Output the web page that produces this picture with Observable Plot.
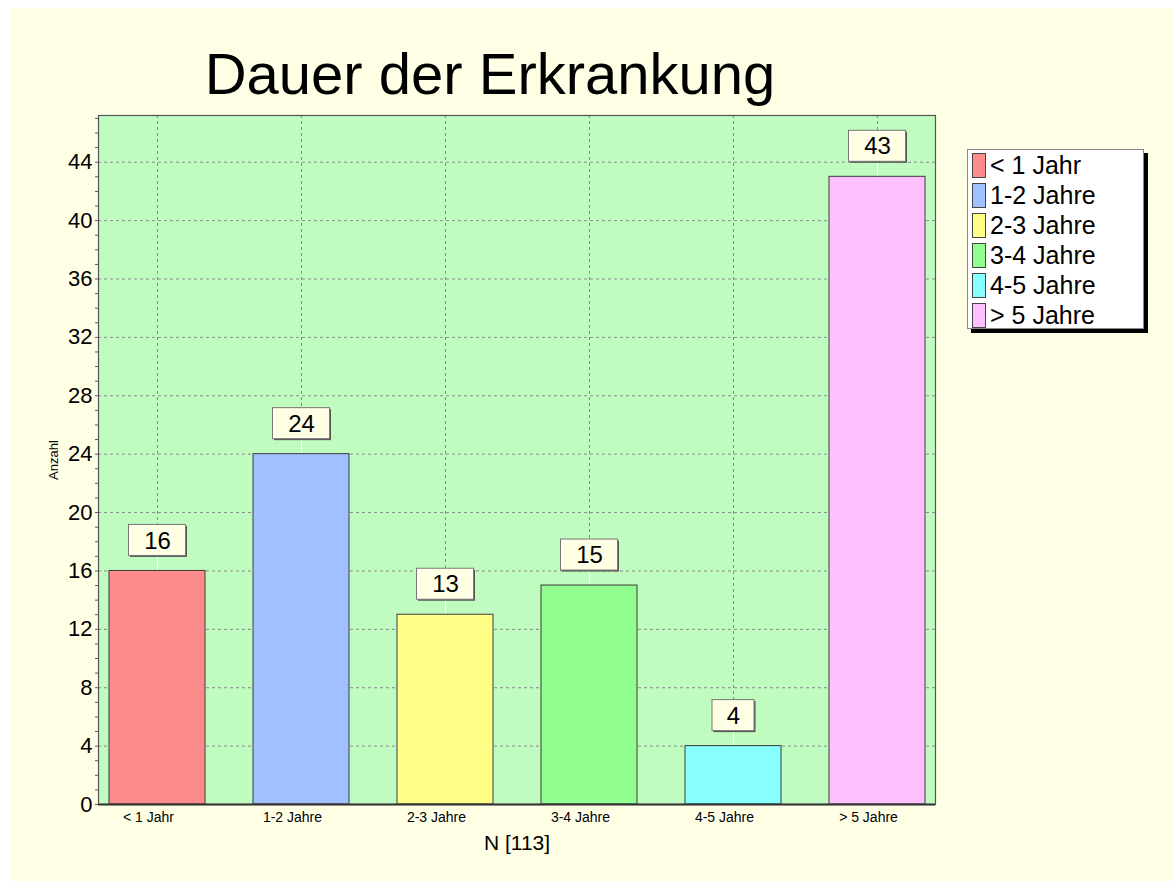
<!DOCTYPE html>
<html>
<head>
<meta charset="utf-8">
<script src="https://cdn.jsdelivr.net/npm/d3@7"></script>
<script src="https://cdn.jsdelivr.net/npm/@observablehq/plot@0.6"></script>
<style>
  html, body { margin: 0; padding: 0; background: #ffffff; }
  #page { position: absolute; left: 10px; top: 8px; width: 1164px; height: 873px; background: #ffffe6; }
  #chart { position: absolute; left: 0; top: 0; }
  #title { position: absolute; left: 0; width: 980px; top: 40px; text-align: center;
           font-family: "Liberation Sans", Arial, sans-serif; font-size: 58px; color: #000; white-space: nowrap; }
  #legend { position: absolute; left: 967px; top: 149px; width: 177px; height: 180px; background: #fff;
            border: 1px solid #888; box-shadow: 4px 4px 0 #000; box-sizing: border-box;
            font-family: "Liberation Sans", Arial, sans-serif; font-size: 25px; color: #000; }
  .row { position: absolute; left: 4px; height: 26px; display: flex; align-items: center; }
  .sw { width: 14px; height: 25px; border: 1px solid #444; margin-right: 4px; box-sizing: border-box; }
</style>
</head>
<body>
<div id="page"></div>
<div id="title">Dauer der Erkrankung</div>
<div id="chart"></div>
<div id="legend"></div>
<script>
const categories = ["< 1 Jahr", "1-2 Jahre", "2-3 Jahre", "3-4 Jahre", "4-5 Jahre", "> 5 Jahre"];
const values = [16, 24, 13, 15, 4, 43];
const colors = ["#ff8c8c", "#a0c0ff", "#ffff88", "#90ff90", "#88ffff", "#ffc0ff"];
const yTicks = [0, 4, 8, 12, 16, 20, 24, 28, 32, 36, 40, 44];
const yMinorTicks = d3.range(0, 48, 1);
const xTitle = "N [113]";
const yTitle = "Anzahl";

const data = categories.map((c, i) => ({cat: c, v: values[i]}));
const twoDigit = data.filter(d => String(d.v).length >= 2);
const oneDigit = data.filter(d => String(d.v).length < 2);

const boxStyle = (inset) => ({
  x: "cat", y1: "v", y2: "v",
  insetTop: -46, insetBottom: 15, insetLeft: inset, insetRight: inset
});

const chart = Plot.plot({
  width: 1174,
  height: 881,
  marginTop: 115,
  marginLeft: 98,
  marginRight: 239,
  marginBottom: 77,
  style: {background: "transparent", fontFamily: "'Liberation Sans', Arial, sans-serif", color: "#000"},
  x: {type: "band", domain: categories, paddingInner: 0.334, paddingOuter: 0.073, align: 0.5},
  y: {domain: [0, 47.2]},
  color: {domain: categories, range: colors},
  marks: [
    Plot.frame({fill: "#c0fcc0", stroke: null}),
    Plot.gridY({ticks: yTicks, stroke: "#8a8a8a", strokeOpacity: 1, strokeDasharray: "3,3"}),
    Plot.gridX({stroke: "#8a8a8a", strokeOpacity: 1, strokeDasharray: "3,3"}),
    Plot.ruleX(data, {x: "cat", y1: "v", y2: "v", insetTop: -15, stroke: "#ffffff", strokeWidth: 1}),
    Plot.barY(data, {x: "cat", y: "v", fill: "cat", stroke: "#3a3a3a", strokeWidth: 1}),
    Plot.barY(twoDigit, {...boxStyle(19.5), fill: "#555", dx: 1.5, dy: 1.5}),
    Plot.barY(twoDigit, {...boxStyle(19.5), fill: "#ffffe6", stroke: "#777", strokeWidth: 1}),
    Plot.barY(oneDigit, {...boxStyle(27), fill: "#555", dx: 1.5, dy: 1.5}),
    Plot.barY(oneDigit, {...boxStyle(27), fill: "#ffffe6", stroke: "#777", strokeWidth: 1}),
    Plot.text(data, {x: "cat", y: "v", text: d => String(d.v), dy: -30, fontSize: 24, fill: "#000", lineAnchor: "middle"}),
    Plot.frame({stroke: "#555", strokeWidth: 1.2}),
    Plot.ruleY([0], {stroke: "#333", strokeWidth: 2}),
    Plot.axisY({ticks: yTicks, tickSize: 0, tickPadding: 6, fontSize: 22, label: null}),
    Plot.tickY(yMinorTicks, {y: d => d, stroke: "#555", insetRight: 834, dx: -3}),
    Plot.axisX({tickSize: 0, tickPadding: 8, fontSize: 14, dx: -9, label: null}),
    Plot.text([xTitle], {frameAnchor: "bottom", textAnchor: "middle", lineAnchor: "middle", dy: 39, fontSize: 21, fill: "#000"}),
    Plot.text([yTitle], {frameAnchor: "left", textAnchor: "middle", lineAnchor: "middle", rotate: -90, dx: -45, fontSize: 13, fill: "#000"})
  ]
});
document.getElementById("chart").appendChild(chart);

const legend = document.getElementById("legend");
categories.forEach((c, i) => {
  const row = document.createElement("div");
  row.className = "row";
  row.style.top = (2 + i * 30) + "px";
  const sw = document.createElement("div");
  sw.className = "sw";
  sw.style.background = colors[i];
  const t = document.createElement("span");
  t.textContent = c;
  row.appendChild(sw);
  row.appendChild(t);
  legend.appendChild(row);
});
</script>
</body>
</html>
